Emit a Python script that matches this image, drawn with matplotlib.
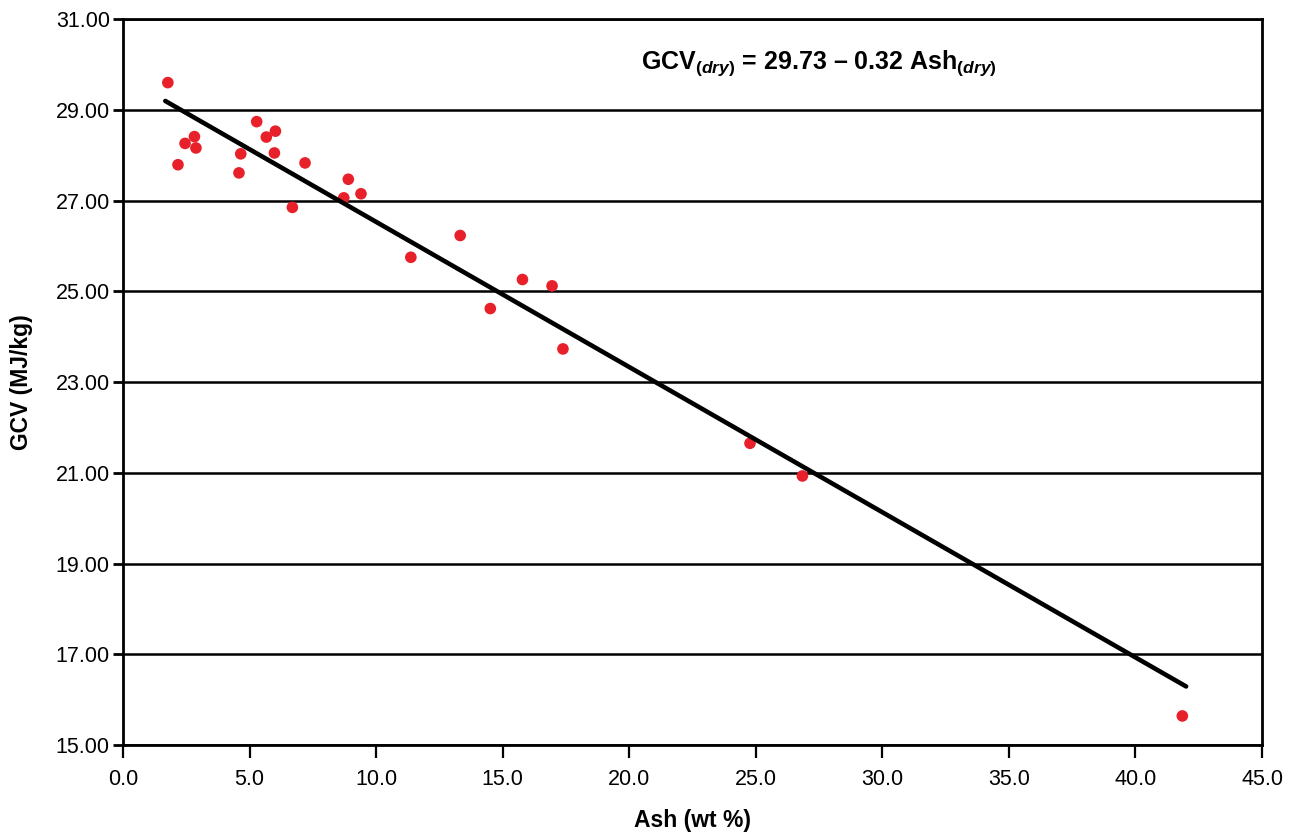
import matplotlib
matplotlib.use("Agg")
import matplotlib.pyplot as plt
import numpy as np

# Ash content (wt %, dry basis) and gross calorific value (MJ/kg)
ash = [1.77, 2.17, 2.45, 2.82, 2.88, 4.58, 4.65, 5.28, 5.66, 6.02,
       5.98, 6.69, 7.19, 8.72, 8.90, 9.40, 11.37, 13.32, 15.78, 16.95,
       14.51, 17.38, 24.77, 26.84, 41.85]
gcv = [29.60, 27.79, 28.26, 28.41, 28.16, 27.61, 28.03, 28.74, 28.40, 28.53,
       28.05, 26.85, 27.83, 27.06, 27.47, 27.15, 25.75, 26.23, 25.26, 25.12,
       24.62, 23.73, 21.65, 20.93, 15.64]

# fitted line: GCV = a - b * Ash
intercept = 29.73
slope = -0.32

x_ticks = np.arange(0, 45.1, 5)
y_ticks = np.arange(15, 31.1, 2)

plt.rcParams.update({
    "font.family": ["Liberation Sans", "DejaVu Sans"],
    "mathtext.fontset": "custom",
    "mathtext.rm": "Liberation Sans:bold",
    "mathtext.it": "Liberation Sans:bold:italic",
    "mathtext.bf": "Liberation Sans:bold",
})

fig = plt.figure(figsize=(12.98, 8.38), dpi=100)
ax = fig.add_axes([0.0948, 0.111, 0.8775, 0.8662])

ax.scatter(ash, gcv, s=70, color="#E8202A", edgecolors="none", zorder=3)

xl = np.array([min(ash) - 0.1, max(ash) + 0.15])
ax.plot(xl, intercept + slope * xl, color="black", linewidth=3.3,
        solid_capstyle="round", zorder=4)

ax.set_xlim(0, 45)
ax.set_ylim(15, 31)
ax.set_xticks(x_ticks)
ax.set_yticks(y_ticks)
ax.set_xticklabels([f"{v:.1f}" for v in x_ticks])
ax.set_yticklabels([f"{v:.2f}" for v in y_ticks])

ax.yaxis.grid(True, color="black", linewidth=1.8)
ax.set_axisbelow(True)
for s in ax.spines.values():
    s.set_linewidth(2.0)
    s.set_color("black")

ax.tick_params(axis="y", direction="out", length=7.5, width=2.0, pad=2,
               labelsize=15.5)
ax.tick_params(axis="x", direction="out", length=9, width=1.6, pad=8,
               labelsize=15.5)

ax.set_xlabel("Ash (wt %)", fontsize=16.5, fontweight="bold", labelpad=14)
ax.set_ylabel("GCV (MJ/kg)", fontsize=16.5, fontweight="bold", labelpad=16)

ax.text(0.611, 0.94,
        r"GCV$_{\mathit{(dry)}}$ = 29.73 – 0.32 Ash$_{\mathit{(dry)}}$",
        transform=ax.transAxes, ha="center", va="center",
        fontsize=18, fontweight="bold")

fig.savefig("out.png", dpi=100)
